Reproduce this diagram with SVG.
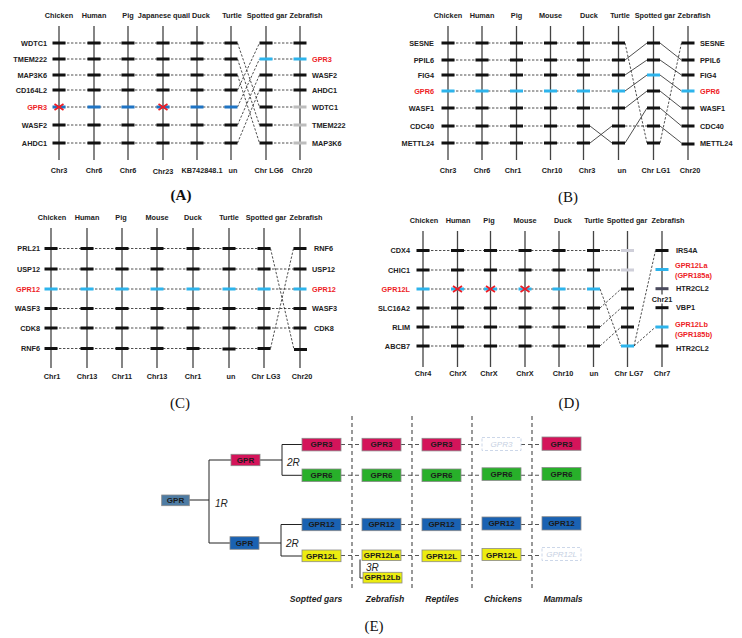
<svg xmlns="http://www.w3.org/2000/svg" xmlns:xlink="http://www.w3.org/1999/xlink" width="742" height="638" viewBox="0 0 742 638">
<defs>
<rect id="b" x="-6.5" y="-1.5" width="13" height="3"/>
<path id="x" d="M-4.5,-3 L4.5,3 M-4.5,3 L4.5,-3" fill="none" stroke="#ee1c25" stroke-width="1.8"/>
</defs>
<style>
.t{font-family:"Liberation Sans",Arial,sans-serif;font-weight:bold;font-size:7.3px;fill:#222}
.c{text-anchor:middle}
.e{text-anchor:end}
.red{fill:#ee1c25}
.ax{stroke:#444;stroke-width:1.3;fill:none}
.k{fill:#111}
.bl{fill:#1f74c4}
.cy{fill:#2db4ec}
.gy{fill:#bdbdbd}
.lg{fill:#cfcfd9}
.dg{fill:#4a4a5c}
.dl{stroke:#222;stroke-width:0.8;stroke-dasharray:2.4 1.6;fill:none}
.sl{stroke:#222;stroke-width:0.8;fill:none}
.pl{font-family:"Liberation Serif","Times New Roman",serif;font-size:15px;fill:#111;text-anchor:middle}
.pb{font-weight:bold}
.bx{stroke:#8a8a8a;stroke-width:0.8}
.bt{font-family:"Liberation Sans",Arial,sans-serif;font-weight:bold;font-size:8px;fill:#1a1a1a;text-anchor:middle}
.gh{fill:#fff;stroke:#c6d2e6;stroke-width:0.9;stroke-dasharray:3 2}
.ght{font-family:"Liberation Sans",Arial,sans-serif;font-style:italic;font-size:8px;fill:#c6d0e2;text-anchor:middle}
.tr{stroke:#222;stroke-width:1;fill:none}
.vd{stroke:#555;stroke-width:1.2;stroke-dasharray:4 3;fill:none}
.hd{stroke:#555;stroke-width:1.1;stroke-dasharray:4 3;fill:none}
.it{font-family:"Liberation Sans",Arial,sans-serif;font-style:italic;font-size:10px;fill:#222}
.cl{font-family:"Liberation Sans",Arial,sans-serif;font-style:italic;font-weight:bold;font-size:8.6px;fill:#222;text-anchor:middle}
</style>

<!-- ================= PANEL A ================= -->
<g id="panelA">
<g class="t c">
<text x="59" y="18">Chicken</text><text x="94" y="18">Human</text><text x="128" y="18">Pig</text><text x="164" y="18">Japanese quail</text><text x="201" y="18">Duck</text><text x="232" y="18">Turtle</text><text x="267" y="18">Spotted gar</text><text x="306" y="18">Zebrafish</text>
<text x="59" y="172.5">Chr3</text><text x="94" y="172.5">Chr6</text><text x="128" y="172.5">Chr6</text><text x="163" y="173.5">Chr23</text><text x="202" y="172.5">KB742848.1</text><text x="233" y="172.5">un</text><text x="269" y="172.5">Chr LG6</text><text x="302" y="172.5">Chr20</text>
</g>
<g class="t e">
<text x="47" y="45.6">WDTC1</text><text x="47" y="61.6">TMEM222</text><text x="47" y="77.6">MAP3K6</text><text x="47" y="92.6">CD164L2</text><text x="47" y="109.6" class="red">GPR3</text><text x="47" y="127.6">WASF2</text><text x="47" y="145.6">AHDC1</text>
</g>
<g class="t">
<text x="312" y="61.6" class="red">GPR3</text><text x="312" y="77.6">WASF2</text><text x="312" y="92.6">AHDC1</text><text x="312" y="109.6">WDTC1</text><text x="312" y="127.6">TMEM222</text><text x="312" y="145.6">MAP3K6</text>
</g>
<g class="ax">
<path d="M59,26V160M94,26V160M128,26V160M163,26V160M197,26V160M231,26V160M266,26V160M300,26V160"/>
</g>
<g id="connA">
<path class="dl" d="M59,43H231M59,59H231M59,75H231M59,90H231M59,107H231M59,125H231M59,143H231"/>
<path class="dl" d="M237.5,43L259.5,107M237.5,59L259.5,125M237.5,75L259.5,143M237.5,90L259.5,43M237.5,107L259.5,59M237.5,125L259.5,75M237.5,143L259.5,90"/>
<path class="dl" d="M266,43H300M266,59H300M266,75H300M266,90H300M266,107H300M266,125H300M266,143H300"/>
</g>
<g class="k">
<use href="#b" x="59" y="43"/><use href="#b" x="94" y="43"/><use href="#b" x="128" y="43"/><use href="#b" x="163" y="43"/><use href="#b" x="197" y="43"/><use href="#b" x="231" y="43"/>
<use href="#b" x="59" y="59"/><use href="#b" x="94" y="59"/><use href="#b" x="128" y="59"/><use href="#b" x="163" y="59"/><use href="#b" x="197" y="59"/><use href="#b" x="231" y="59"/>
<use href="#b" x="59" y="75"/><use href="#b" x="94" y="75"/><use href="#b" x="128" y="75"/><use href="#b" x="163" y="75"/><use href="#b" x="197" y="75"/><use href="#b" x="231" y="75"/>
<use href="#b" x="59" y="90"/><use href="#b" x="94" y="90"/><use href="#b" x="128" y="90"/><use href="#b" x="163" y="90"/><use href="#b" x="197" y="90"/><use href="#b" x="231" y="90"/>
<use href="#b" x="59" y="125"/><use href="#b" x="94" y="125"/><use href="#b" x="128" y="125"/><use href="#b" x="163" y="125"/><use href="#b" x="197" y="125"/><use href="#b" x="231" y="125"/>
<use href="#b" x="59" y="143"/><use href="#b" x="94" y="143"/><use href="#b" x="128" y="143"/><use href="#b" x="163" y="143"/><use href="#b" x="197" y="143"/><use href="#b" x="231" y="143"/>
<use href="#b" x="266" y="43"/><use href="#b" x="266" y="75"/><use href="#b" x="266" y="90"/><use href="#b" x="266" y="107"/><use href="#b" x="266" y="125"/><use href="#b" x="266" y="143"/>
<use href="#b" x="300" y="43"/><use href="#b" x="300" y="75"/><use href="#b" x="300" y="90"/>
</g>
<g class="bl">
<use href="#b" x="59" y="107"/><use href="#b" x="94" y="107"/><use href="#b" x="128" y="107"/><use href="#b" x="163" y="107"/><use href="#b" x="197" y="107"/><use href="#b" x="231" y="107"/>
</g>
<g class="cy"><use href="#b" x="266" y="59"/><use href="#b" x="300" y="59"/></g>
<g class="gy"><use href="#b" x="300" y="107"/><use href="#b" x="300" y="125"/><use href="#b" x="300" y="143"/></g>
<use href="#x" x="59" y="107"/><use href="#x" x="163" y="107"/>
<text class="pl pb" x="181" y="200">(A)</text>
</g>

<!-- ================= PANEL B ================= -->
<g id="panelB">
<g class="t c">
<text x="448" y="18">Chicken</text><text x="482" y="18">Human</text><text x="516.5" y="18">Pig</text><text x="550.5" y="18">Mouse</text><text x="589" y="18">Duck</text><text x="620" y="18">Turtle</text><text x="655" y="18">Spotted gar</text><text x="694" y="18">Zebrafish</text>
<text x="448" y="172.5">Chr3</text><text x="482" y="172.5">Chr6</text><text x="513" y="172.5">Chr1</text><text x="552" y="172.5">Chr10</text><text x="587" y="172.5">Chr3</text><text x="622" y="172.5">un</text><text x="656" y="172.5">Chr LG1</text><text x="690" y="172.5">Chr20</text>
</g>
<g class="t e">
<text x="434" y="45.6">SESNE</text><text x="434" y="62.6">PPIL6</text><text x="434" y="77.6">FIG4</text><text x="434" y="93.6" class="red">GPR6</text><text x="434" y="110.6">WASF1</text><text x="434" y="128.6">CDC40</text><text x="434" y="145.6">METTL24</text>
</g>
<g class="t">
<text x="700" y="45.6">SESNE</text><text x="700" y="62.6">PPIL6</text><text x="700" y="77.6">FIG4</text><text x="700" y="93.6" class="red">GPR6</text><text x="700" y="110.6">WASF1</text><text x="700" y="128.6">CDC40</text><text x="700" y="145.6">METTL24</text>
</g>
<g class="ax">
<path d="M448,26V160M482,26V160M516.5,26V160M550.5,26V160M583.5,26V160M618.5,26V160M653.5,26V160M688,26V160"/>
</g>
<g id="connB">
<path class="dl" d="M448,43H583.5M448,60H583.5M448,75H583.5M448,91H583.5M448,108H583.5M448,126H583.5M448,143H583.5"/>
<path class="dl" d="M583.5,43H618.5M583.5,60H618.5M583.5,75H618.5M583.5,91H618.5M583.5,108H618.5"/>
<path class="sl" d="M590,126L612,143M590,143L612,126"/>
<path class="dl" d="M625,43L647,143M625,126H647"/>
<path class="sl" d="M625,60L647,43M625,75L647,60M625,91L647,75M625,108L647,91M625,143L647,108"/>
<path class="sl" d="M660,43L681.5,60M660,60L681.5,75M660,75L681.5,91M660,91L681.5,108M660,108L681.5,126M660,126L681.5,143"/>
<path class="dl" d="M660,143L681.5,43"/>
</g>
<g class="k">
<use href="#b" x="448" y="43"/><use href="#b" x="482" y="43"/><use href="#b" x="516.5" y="43"/><use href="#b" x="550.5" y="43"/><use href="#b" x="583.5" y="43"/><use href="#b" x="618.5" y="43"/>
<use href="#b" x="448" y="60"/><use href="#b" x="482" y="60"/><use href="#b" x="516.5" y="60"/><use href="#b" x="550.5" y="60"/><use href="#b" x="583.5" y="60"/><use href="#b" x="618.5" y="60"/>
<use href="#b" x="448" y="75"/><use href="#b" x="482" y="75"/><use href="#b" x="516.5" y="75"/><use href="#b" x="550.5" y="75"/><use href="#b" x="583.5" y="75"/><use href="#b" x="618.5" y="75"/>
<use href="#b" x="448" y="108"/><use href="#b" x="482" y="108"/><use href="#b" x="516.5" y="108"/><use href="#b" x="550.5" y="108"/><use href="#b" x="583.5" y="108"/><use href="#b" x="618.5" y="108"/>
<use href="#b" x="448" y="126"/><use href="#b" x="482" y="126"/><use href="#b" x="516.5" y="126"/><use href="#b" x="550.5" y="126"/><use href="#b" x="583.5" y="126"/><use href="#b" x="618.5" y="126"/>
<use href="#b" x="448" y="143"/><use href="#b" x="482" y="143"/><use href="#b" x="516.5" y="143"/><use href="#b" x="550.5" y="143"/><use href="#b" x="583.5" y="143"/><use href="#b" x="618.5" y="143"/>
<use href="#b" x="653.5" y="43"/><use href="#b" x="653.5" y="60"/><use href="#b" x="653.5" y="91"/><use href="#b" x="653.5" y="108"/><use href="#b" x="653.5" y="126"/><use href="#b" x="653.5" y="143"/>
<use href="#b" x="688" y="43"/><use href="#b" x="688" y="60"/><use href="#b" x="688" y="75"/><use href="#b" x="688" y="108"/><use href="#b" x="688" y="126"/><use href="#b" x="688" y="144"/>
</g>
<g class="cy">
<use href="#b" x="448" y="91"/><use href="#b" x="482" y="91"/><use href="#b" x="516.5" y="91"/><use href="#b" x="550.5" y="91"/><use href="#b" x="583.5" y="91"/><use href="#b" x="618.5" y="91"/>
<use href="#b" x="653.5" y="75"/><use href="#b" x="688" y="91"/>
</g>
<text class="pl" x="568" y="202">(B)</text>
</g>

<!-- ================= PANEL C ================= -->
<g id="panelC">
<g class="t c">
<text x="52" y="219.5">Chicken</text><text x="87" y="219.5">Human</text><text x="121" y="219.5">Pig</text><text x="157" y="219.5">Mouse</text><text x="193" y="219.5">Duck</text><text x="229" y="219.5">Turtle</text><text x="266" y="219.5">Spotted gar</text><text x="306" y="219.5">Zebrafish</text>
<text x="52" y="378.5">Chr1</text><text x="87" y="378.5">Chr13</text><text x="122" y="378.5">Chr11</text><text x="157" y="378.5">Chr13</text><text x="193" y="378.5">Chr1</text><text x="231" y="378.5">un</text><text x="266" y="378.5">Chr LG3</text><text x="302" y="378.5">Chr20</text>
</g>
<g class="t e">
<text x="40" y="251.1">PRL21</text><text x="40" y="271.6">USP12</text><text x="40" y="291.6" class="red">GPR12</text><text x="40" y="311.1">WASF3</text><text x="40" y="330.6">CDK8</text><text x="40" y="351.1">RNF6</text>
</g>
<g class="t">
<text x="314" y="251.1">RNF6</text><text x="312" y="271.6">USP12</text><text x="312" y="291.6" class="red">GPR12</text><text x="312" y="311.1">WASF3</text><text x="314" y="330.6">CDK8</text>
</g>
<g class="ax">
<path d="M51,228V368M87,228V368M122,228V368M157,228V368M193,228V368M229,228V368M264,228V368M300,228V368"/>
</g>
<g id="connC">
<path class="dl" d="M51,248.5H264M51,269H264M51,289H264M51,308.5H264M51,328H264M51,348.5H264"/>
<path class="dl" d="M264,269H300M264,289H300M264,308.5H300M264,328H300"/>
<path class="dl" d="M270.5,248.5L294,349.5M270.5,348.5L293.5,248.5"/>
</g>
<g class="k">
<use href="#b" x="51" y="248.5"/><use href="#b" x="87" y="248.5"/><use href="#b" x="122" y="248.5"/><use href="#b" x="157" y="248.5"/><use href="#b" x="193" y="248.5"/><use href="#b" x="229" y="248.5"/><use href="#b" x="264" y="248.5"/><use href="#b" x="300" y="248.5"/>
<use href="#b" x="51" y="269"/><use href="#b" x="87" y="269"/><use href="#b" x="122" y="269"/><use href="#b" x="157" y="269"/><use href="#b" x="193" y="269"/><use href="#b" x="229" y="269"/><use href="#b" x="264" y="269"/><use href="#b" x="300" y="269"/>
<use href="#b" x="51" y="308.5"/><use href="#b" x="87" y="308.5"/><use href="#b" x="122" y="308.5"/><use href="#b" x="157" y="308.5"/><use href="#b" x="193" y="308.5"/><use href="#b" x="229" y="308.5"/><use href="#b" x="264" y="308.5"/><use href="#b" x="300" y="308.5"/>
<use href="#b" x="51" y="328"/><use href="#b" x="87" y="328"/><use href="#b" x="122" y="328"/><use href="#b" x="157" y="328"/><use href="#b" x="193" y="328"/><use href="#b" x="229" y="328"/><use href="#b" x="264" y="328"/><use href="#b" x="300" y="328"/>
<use href="#b" x="51" y="348.5"/><use href="#b" x="87" y="348.5"/><use href="#b" x="122" y="348.5"/><use href="#b" x="157" y="348.5"/><use href="#b" x="193" y="348.5"/><use href="#b" x="229" y="349"/><use href="#b" x="264" y="348.5"/><use href="#b" x="300.5" y="349.5"/>
</g>
<g class="cy">
<use href="#b" x="51" y="289"/><use href="#b" x="87" y="289"/><use href="#b" x="122" y="289"/><use href="#b" x="157" y="289"/><use href="#b" x="193" y="289"/><use href="#b" x="229" y="289"/><use href="#b" x="264" y="289"/><use href="#b" x="300" y="289"/>
</g>
<text class="pl" x="180" y="408">(C)</text>
</g>

<!-- ================= PANEL D ================= -->
<g id="panelD">
<g class="t c">
<text x="424" y="223">Chicken</text><text x="458" y="223">Human</text><text x="489" y="223">Pig</text><text x="525" y="223">Mouse</text><text x="563" y="223">Duck</text><text x="594" y="223">Turtle</text><text x="627" y="223">Spotted gar</text><text x="668" y="223">Zebrafish</text>
<text x="423" y="376">Chr4</text><text x="458" y="376">ChrX</text><text x="489" y="376">ChrX</text><text x="525" y="376">ChrX</text><text x="563" y="376">Chr10</text><text x="594" y="376">un</text><text x="629" y="376">Chr LG7</text><text x="662" y="376">Chr7</text>
<text x="662" y="301.8">Chr21</text>
</g>
<g class="t e">
<text x="410" y="253.1">CDX4</text><text x="410" y="272.6">CHIC1</text><text x="410" y="291.6" class="red">GPR12L</text><text x="410" y="310.6">SLC16A2</text><text x="410" y="329.6">RLIM</text><text x="410" y="348.6">ABCB7</text>
</g>
<g class="t">
<text x="676" y="253.1">IRS4A</text>
<text x="675" y="268.4" class="red">GPR12La</text><text x="675" y="277.6" class="red">(GPR185a)</text>
<text x="676" y="291.3">HTR2CL2</text><text x="676" y="310.3">VBP1</text>
<text x="675" y="327.4" class="red">GPR12Lb</text><text x="675" y="336.6" class="red">(GPR185b)</text>
<text x="676" y="350.6">HTR2CL2</text>
</g>
<g class="ax">
<path d="M423,231V367M457.5,231V367M490.5,231V367M525,231V367M559,231V367M593.5,231V367M627.5,231V367M662,231V294.5M662,303.5V367"/>
</g>
<g id="connD">
<path class="dl" d="M423,250.5H593.5M423,270H593.5M423,289H593.5M423,308H593.5M423,327H593.5M423,346H593.5"/>
<path class="dl" d="M593.5,250.5H627.5M593.5,270H627.5"/>
<path class="dl" d="M600,289L621,346M600,308L621,289M600,327L621,308M600,346L621,327"/>
<path class="dl" d="M634,346L655.5,250.5M634,346L655.5,327"/>
</g>
<g class="k">
<use href="#b" x="423" y="250.5"/><use href="#b" x="457.5" y="250.5"/><use href="#b" x="490.5" y="250.5"/><use href="#b" x="525" y="250.5"/><use href="#b" x="559" y="250.5"/><use href="#b" x="593.5" y="250.5"/>
<use href="#b" x="423" y="270"/><use href="#b" x="457.5" y="270"/><use href="#b" x="490.5" y="270"/><use href="#b" x="525" y="270"/><use href="#b" x="559" y="270"/><use href="#b" x="593.5" y="270"/>
<use href="#b" x="423" y="308"/><use href="#b" x="457.5" y="308"/><use href="#b" x="490.5" y="308"/><use href="#b" x="525" y="308"/><use href="#b" x="559" y="308"/><use href="#b" x="593.5" y="308"/>
<use href="#b" x="423" y="327"/><use href="#b" x="457.5" y="327"/><use href="#b" x="490.5" y="327"/><use href="#b" x="525" y="327"/><use href="#b" x="559" y="327"/><use href="#b" x="593.5" y="327"/>
<use href="#b" x="423" y="346"/><use href="#b" x="457.5" y="346"/><use href="#b" x="490.5" y="346"/><use href="#b" x="525" y="346"/><use href="#b" x="559" y="346"/><use href="#b" x="593.5" y="346"/>
<use href="#b" x="627.5" y="289"/><use href="#b" x="627.5" y="308"/><use href="#b" x="627.5" y="327"/>
<use href="#b" x="662" y="250.5"/><use href="#b" x="662" y="307.7"/><use href="#b" x="662" y="346"/>
</g>
<g class="cy">
<use href="#b" x="423" y="289"/><use href="#b" x="457.5" y="289"/><use href="#b" x="490.5" y="289"/><use href="#b" x="525" y="289"/><use href="#b" x="559" y="289"/><use href="#b" x="593.5" y="289"/>
<use href="#b" x="627.5" y="346"/><use href="#b" x="662" y="269.5"/><use href="#b" x="662" y="327"/>
</g>
<g class="lg"><use href="#b" x="627.5" y="250.5"/><use href="#b" x="627.5" y="270"/></g>
<g class="dg"><use href="#b" x="662" y="288.7"/></g>
<use href="#x" x="457.5" y="289"/><use href="#x" x="490.5" y="289"/><use href="#x" x="525" y="289"/>
<text class="pl" x="569" y="408">(D)</text>
</g>

<!-- ================= PANEL E ================= -->
<g id="panelE">
<g id="connectorsE">
<path class="vd" d="M352,416V590M412,416V590M472,416V590M532,416V590"/>
<path class="tr" d="M189,500H209M209,460V543M209,460H231M209,543H230M260,460H282M282,444.5V475.3M282,444.5H302M282,475.3H302M259,543H281M281,524.5V556M281,524.5H302M281,556H302M360,559.5V578H363"/>
<path class="hd" d="M341,444.5H362M401,444.5H422M461,444.5H482M521,444.5H542"/>
<path class="hd" d="M341,475.3H362M401,475.3H422M461,475.3H482M521,475.3H542"/>
<path class="hd" d="M341,524.5H362M401,524.5H422M461,524.5H482M521,524.5H542"/>
<path class="hd" d="M341,555.5H362M401,555.5H422M461,555.5H482M521,555.5H542"/>
</g>
<text class="it" x="215" y="507">1R</text>
<text class="it" x="287" y="465.5">2R</text>
<text class="it" x="286" y="547">2R</text>
<text class="it" x="366" y="571">3R</text>

<g id="nGPRroot"><rect class="bx" x="161.7" y="495" width="27.6" height="10.7" fill="#4e7ca4"/><text class="bt" x="175.5" y="503.2">GPR</text></g>
<g id="nGPRa"><rect class="bx" x="231" y="454.3" width="29" height="11.4" fill="#d4145a"/><text class="bt" x="245.5" y="462.8">GPR</text></g>
<g id="nGPRb"><rect class="bx" x="230" y="536.7" width="29" height="12.6" fill="#1a62b2"/><text class="bt" x="244.5" y="545.9">GPR</text></g>

<g id="gar_GPR3"><rect class="bx" x="302" y="438.3" width="39" height="12.6" fill="#d4145a"/><text class="bt" x="321.5" y="447.4">GPR3</text></g>
<g id="gar_GPR6"><rect class="bx" x="302" y="469" width="39" height="12.6" fill="#28b02a"/><text class="bt" x="321.5" y="478.2">GPR6</text></g>
<g id="gar_GPR12"><rect class="bx" x="302" y="518.3" width="39" height="12.4" fill="#1a62b2"/><text class="bt" x="321.5" y="527.4">GPR12</text></g>
<g id="gar_GPR12L"><rect class="bx" x="302" y="550" width="39" height="11.7" fill="#ecec10"/><text class="bt" x="321.5" y="558.8">GPR12L</text></g>

<g id="zf_GPR3"><rect class="bx" x="362" y="438.3" width="39" height="12.6" fill="#d4145a"/><text class="bt" x="381.5" y="447.4">GPR3</text></g>
<g id="zf_GPR6"><rect class="bx" x="362" y="469" width="39" height="12.6" fill="#28b02a"/><text class="bt" x="381.5" y="478.2">GPR6</text></g>
<g id="zf_GPR12"><rect class="bx" x="362" y="518.3" width="39" height="12.4" fill="#1a62b2"/><text class="bt" x="381.5" y="527.4">GPR12</text></g>
<g id="zf_GPR12La"><rect class="bx" x="362" y="550" width="39" height="10.5" fill="#ecec10"/><text class="bt" x="381.5" y="558" font-size="6.8">GPR12La</text></g>
<g id="zf_GPR12Lb"><rect class="bx" x="363" y="572.3" width="39" height="10.7" fill="#ecec10"/><text class="bt" x="382.5" y="580.4" font-size="6.8">GPR12Lb</text></g>

<g id="rep_GPR3"><rect class="bx" x="422" y="438.3" width="39" height="12.6" fill="#d4145a"/><text class="bt" x="441.5" y="447.4">GPR3</text></g>
<g id="rep_GPR6"><rect class="bx" x="422" y="469" width="39" height="12.6" fill="#28b02a"/><text class="bt" x="441.5" y="478.2">GPR6</text></g>
<g id="rep_GPR12"><rect class="bx" x="422" y="518.3" width="39" height="12.4" fill="#1a62b2"/><text class="bt" x="441.5" y="527.4">GPR12</text></g>
<g id="rep_GPR12L"><rect class="bx" x="422" y="550" width="39" height="11.7" fill="#ecec10"/><text class="bt" x="441.5" y="558.8">GPR12L</text></g>

<g id="chk_GPR3"><rect class="gh" x="482" y="437.5" width="39" height="13"/><text class="ght" x="501.5" y="447">GPR3</text></g>
<g id="chk_GPR6"><rect class="bx" x="482" y="467.8" width="39" height="12.6" fill="#28b02a"/><text class="bt" x="501.5" y="477">GPR6</text></g>
<g id="chk_GPR12"><rect class="bx" x="482" y="517" width="39" height="13" fill="#1a62b2"/><text class="bt" x="501.5" y="526.4">GPR12</text></g>
<g id="chk_GPR12L"><rect class="bx" x="482" y="548.5" width="39" height="12" fill="#ecec10"/><text class="bt" x="501.5" y="557.5">GPR12L</text></g>

<g id="mam_GPR3"><rect class="bx" x="542" y="437" width="39" height="13.3" fill="#d4145a"/><text class="bt" x="561.5" y="446.6">GPR3</text></g>
<g id="mam_GPR6"><rect class="bx" x="542" y="467.5" width="39" height="13" fill="#28b02a"/><text class="bt" x="561.5" y="477">GPR6</text></g>
<g id="mam_GPR12"><rect class="bx" x="542" y="516.7" width="39" height="13.3" fill="#1a62b2"/><text class="bt" x="561.5" y="526.4">GPR12</text></g>
<g id="mam_GPR12L"><rect class="gh" x="542" y="547.5" width="39" height="13"/><text class="ght" x="561.5" y="557">GPR12L</text></g>

<text class="cl" x="316" y="601.5">Soptted gars</text>
<text class="cl" x="385" y="601.5">Zebrafish</text>
<text class="cl" x="442" y="601.5">Reptiles</text>
<text class="cl" x="503" y="601.5">Chickens</text>
<text class="cl" x="563" y="601.5">Mammals</text>
<text class="pl" x="374" y="631">(E)</text>
</g>
</svg>
